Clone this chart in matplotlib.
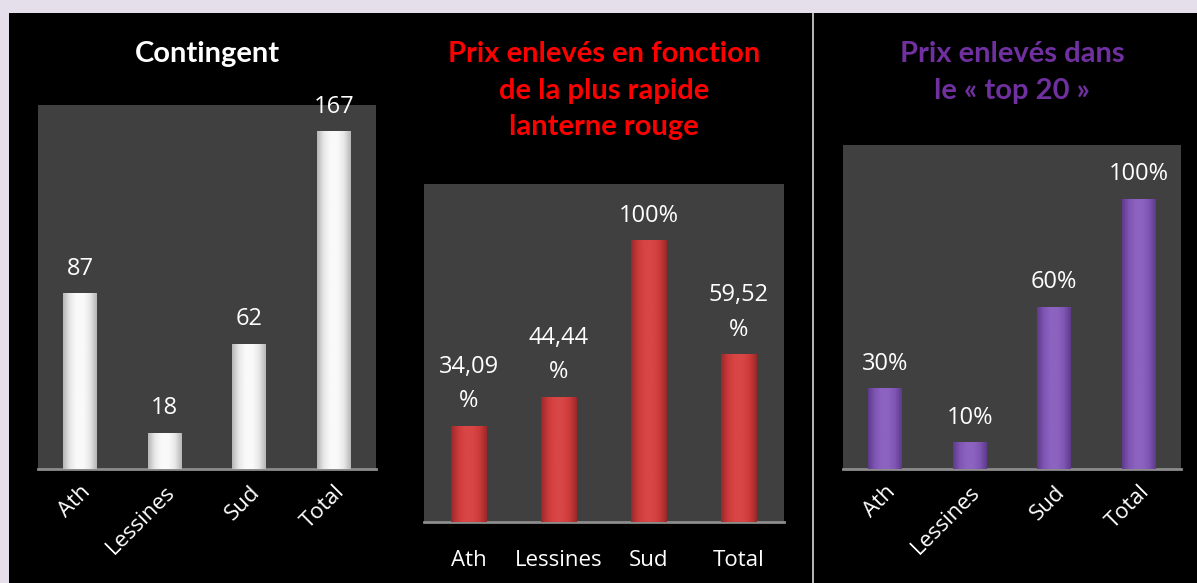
import matplotlib
matplotlib.use("Agg")
import matplotlib.pyplot as plt
import numpy as np
from matplotlib.patches import Rectangle
from matplotlib.colors import LinearSegmentedColormap

plt.rcParams['font.family'] = ['Lato', 'DejaVu Sans']
LABEL_FONT = ['Open Sans', 'DejaVu Sans']

categories = ["Ath", "Lessines", "Sud", "Total"]
contingent = [87, 18, 62, 167]
contingent_labels = ["87", "18", "62", "167"]
prix_lanterne = [34.09, 44.44, 100, 59.52]
prix_lanterne_labels = ["34,09\n%", "44,44\n%", "100%", "59,52\n%"]
prix_top20 = [30, 10, 60, 100]
prix_top20_labels = ["30%", "10%", "60%", "100%"]

titles = ["Contingent",
          "Prix enlevés en fonction\nde la plus rapide\nlanterne rouge",
          "Prix enlevés dans\nle « top 20 »"]
title_colors = ["#FFFFFF", "#FF0000", "#7030A0"]

W, H = 1197, 583
fig = plt.figure(figsize=(W / 100, H / 100), dpi=100)
fig.patch.set_facecolor("#E5DFEC")

# black background panel
fig.patches.append(Rectangle((9 / W, 0), 1 - 9 / W, (H - 13) / H,
                             transform=fig.transFigure, facecolor="black",
                             edgecolor="none", zorder=-10))
# separator line
fig.add_artist(plt.Line2D([813 / W, 813 / W], [0, (H - 13) / H],
                          transform=fig.transFigure, color="#D9D9D9", lw=1.2,
                          zorder=-5))


def gradient_bars(ax, bars, dark, mid, light):
    cmap = LinearSegmentedColormap.from_list(
        "g", [dark, mid, light, light, mid, dark])
    grad = np.linspace(0, 1, 256).reshape(1, -1)
    for b in bars:
        x0, y0 = b.get_x(), b.get_y()
        w, h = b.get_width(), b.get_height()
        im = ax.imshow(grad, cmap=cmap, aspect="auto",
                       extent=(x0, x0 + w, y0, y0 + h), zorder=3,
                       interpolation="bicubic")
        im.set_clip_path(b)
        b.set_facecolor("none")


def make_panel(rect, values, labels, ylim, colors, title, title_color,
               title_y, rotate, tick_pad):
    ax = fig.add_axes(rect)
    ax.set_facecolor("#404040")
    x = np.arange(len(categories))
    bars = ax.bar(x, values, width=0.4, color=colors[1], zorder=2,
                  edgecolor="none")
    gradient_bars(ax, bars, colors[0], colors[1], colors[2])
    ax.set_xlim(-0.5, len(categories) - 0.5)
    ax.set_ylim(0, ylim)
    ax.set_yticks([])
    ax.set_xticks(x)
    for s in ["top", "left", "right"]:
        ax.spines[s].set_visible(False)
    ax.spines["bottom"].set_color("#8C8C8C")
    ax.spines["bottom"].set_linewidth(2)
    ax.tick_params(axis="x", length=0, colors="white", pad=tick_pad)
    if rotate:
        ax.set_xticklabels(categories, rotation=45, ha="right",
                           rotation_mode="anchor", fontsize=16, color="white",
                           family=LABEL_FONT)
    else:
        ax.set_xticklabels(categories, fontsize=16, color="white",
                           family=LABEL_FONT)
    for xi, v, lab in zip(x, values, labels):
        ax.annotate(lab, (xi, v), xytext=(0, 9), textcoords="offset points",
                    ha="center", va="bottom", color="white", fontsize=17,
                    linespacing=1.6, family=LABEL_FONT)
    cx = rect[0] + rect[2] / 2
    fig.text(cx, title_y, title, ha="center", va="top", color=title_color,
             fontsize=21, fontweight="bold", linespacing=1.5)
    return ax


make_panel([38 / W, 114 / H, 338 / W, 364 / H], contingent, contingent_labels,
           180, ["#B5B5B5", "#E8E8E8", "#FAFAFA"], titles[0], title_colors[0],
           1 - 41 / H, True, 9)
make_panel([424 / W, 61 / H, 360 / W, 338 / H], prix_lanterne,
           prix_lanterne_labels, 120, ["#992828", "#CC3A3A", "#D84646"],
           titles[1], title_colors[1], 1 - 41 / H, False, 20)
make_panel([843 / W, 114 / H, 338 / W, 324 / H], prix_top20,
           prix_top20_labels, 120, ["#5E3A8A", "#7E55B2", "#8C63C0"],
           titles[2], title_colors[2], 1 - 41 / H, True, 9)

fig.savefig("out.png", dpi=100, facecolor=fig.get_facecolor())
